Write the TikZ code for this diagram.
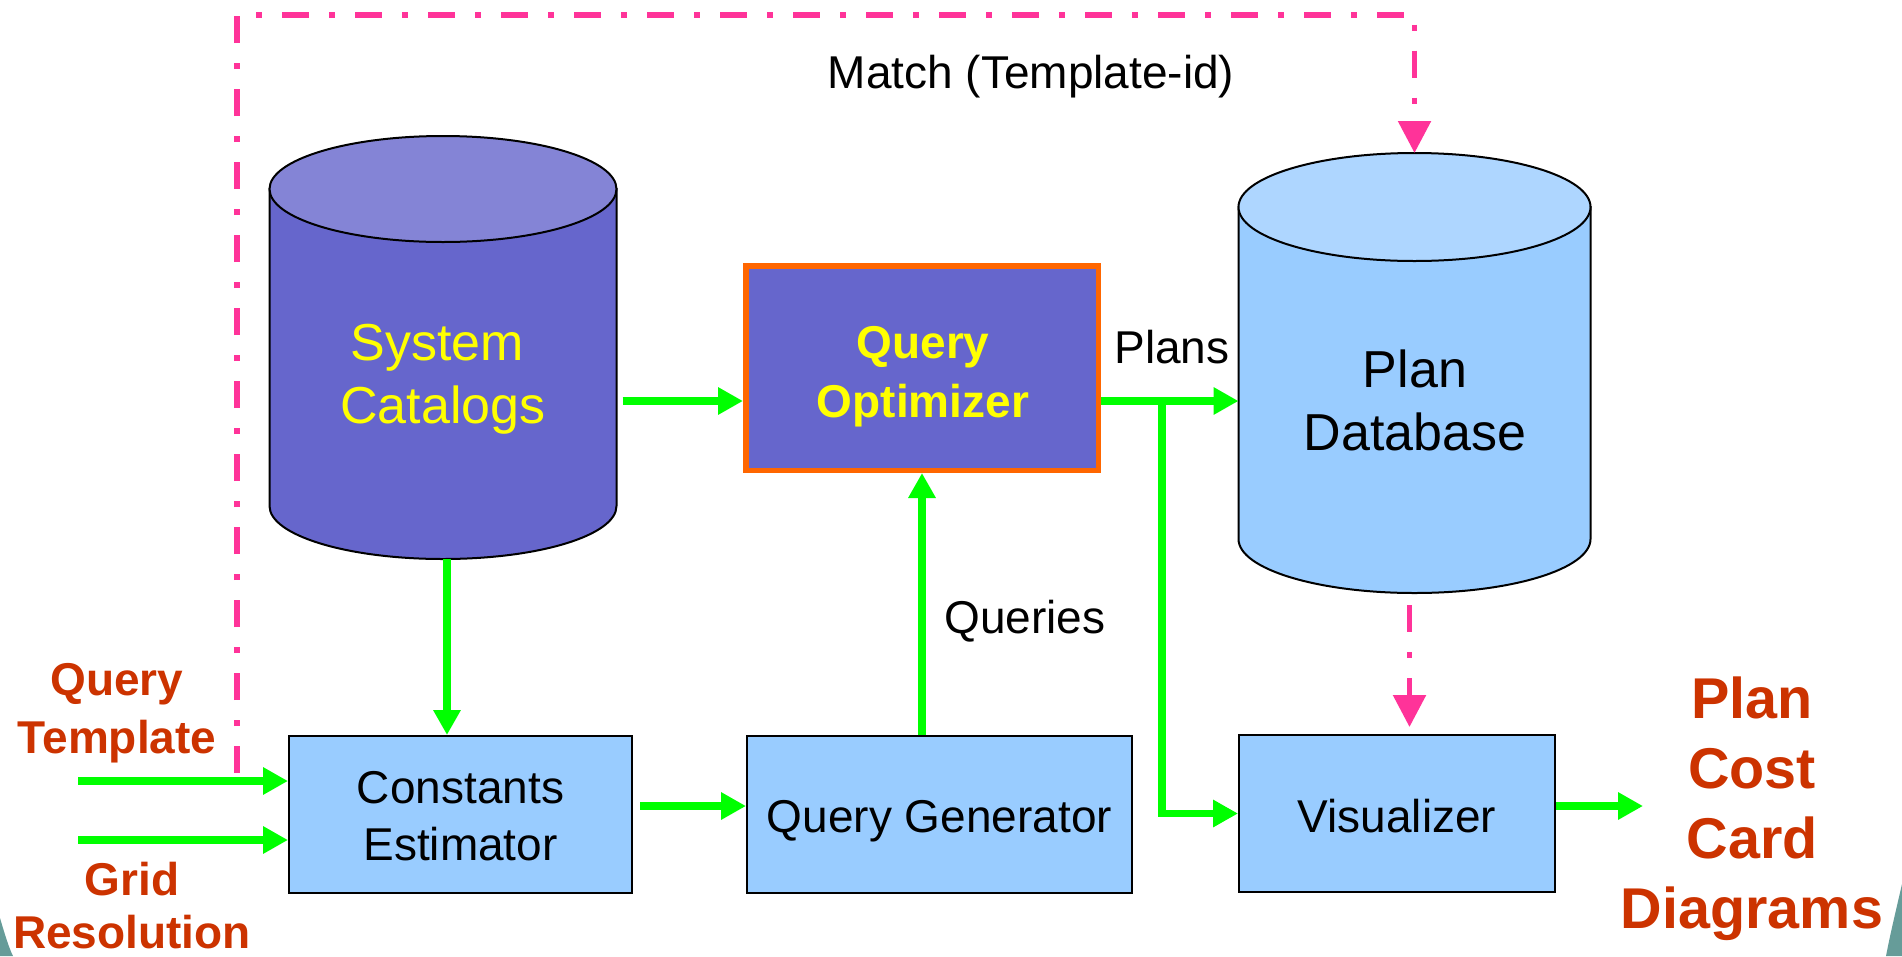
\documentclass[tikz,border=0pt]{standalone}
\usepackage{fontspec}
\setmainfont{Liberation Sans}
\usetikzlibrary{arrows.meta,calc}
\definecolor{flowgreen}{HTML}{00FF00}
\definecolor{matchpink}{HTML}{FF3399}
\definecolor{labred}{HTML}{CC3300}
\definecolor{boxblue}{HTML}{99CCFF}
\definecolor{dbtop}{HTML}{AED6FF}
\definecolor{catbody}{HTML}{6666CC}
\definecolor{cattop}{HTML}{8484D6}
\definecolor{optborder}{HTML}{FF6600}
\definecolor{txtyellow}{HTML}{FFFF00}
\definecolor{cornerteal}{HTML}{669C99}
\newcommand\drawcyl[5]{%
  \filldraw[fill=#4,draw=black,line width=2pt]
    ($(#1.north west)+(0,#3)$) -- ($(#1.south west)+(0,-#3)$)
    arc[start angle=180,end angle=360,x radius=#2pt,y radius=#3pt]
    -- ($(#1.north east)+(0,#3)$) -- cycle;
  \filldraw[fill=#5,draw=black,line width=2pt]
    ($(#1.north)+(0,#3)$) ellipse[x radius=#2pt,y radius=#3pt];
}
\begin{document}
\begin{tikzpicture}[x=1pt,y=-1pt,
  shapebox/.style={rectangle,inner sep=0pt,outer sep=0pt,draw=none},
  procbox/.style={rectangle,inner sep=0pt,fill=boxblue,draw=black,line width=2pt},
  txt/.style={inner sep=0pt,anchor=base,font=\fontsize{46}{55}\selectfont},
  bigtxt/.style={inner sep=0pt,anchor=base,font=\fontsize{52}{62}\selectfont},
  redtxt/.style={inner sep=0pt,anchor=base,text=labred,font=\fontsize{46}{55}\selectfont\bfseries},
  outtxt/.style={inner sep=0pt,anchor=base,text=labred,font=\fontsize{57.5}{69}\selectfont\bfseries},
  garrow/.style={draw=flowgreen,line width=7.5pt,-{Triangle[length=25pt,width=26pt]}},
  parrow/.style={draw=matchpink,line width=5.5pt,dash pattern=on 27pt off 20pt on 6pt off 20pt,
                 -{Triangle[length=32pt,width=32pt]}}
]
\useasboundingbox (0,0) rectangle (1902,956);
\fill[white] (0,0) rectangle (1902,956);

% slide background corners
\fill[cornerteal] (0,918) .. controls (5,935) and (9,948) .. (13,956) -- (0,956) -- cycle;
\fill[cornerteal] (1902,884) .. controls (1896,910) and (1890,935) .. (1886,956) -- (1902,956) -- cycle;

% cylinders (named bounding nodes)
\node[shapebox,minimum width=347pt,minimum height=423pt] (sc) at (443,347.5) {};
\node[shapebox,minimum width=352pt,minimum height=440pt] (pdb) at (1414.5,373) {};
\drawcyl{sc}{173.5}{53}{catbody}{cattop}
\drawcyl{pdb}{176}{54}{boxblue}{dbtop}

% boxes
\node[rectangle,inner sep=0pt,fill=catbody,draw=optborder,line width=5.5pt,
      minimum width=352.5pt,minimum height=204.5pt] (qo) at (922,368) {};
\node[procbox,minimum width=343pt,minimum height=157pt] (ce) at (460.5,814.5) {};
\node[procbox,minimum width=385pt,minimum height=157pt] (qg) at (939.5,814.5) {};
\node[procbox,minimum width=316pt,minimum height=157pt] (vis) at (1397,813.5) {};

% texts
\node[bigtxt,text=txtyellow] (sc1) at (437,360) {System};
\node[bigtxt,text=txtyellow] (sc2) at (443,423) {Catalogs};
\node[bigtxt] (pdb1) at (1415,387) {Plan};
\node[bigtxt] (pdb2) at (1415,450) {Database};
\node[txt,text=txtyellow,font=\fontsize{46}{55}\selectfont\bfseries] (qo1) at (923,358) {Query};
\node[txt,text=txtyellow,font=\fontsize{46}{55}\selectfont\bfseries] (qo2) at (923,417) {Optimizer};
\node[txt] (ce1) at (460.5,803) {Constants};
\node[txt] (ce2) at (460.5,860) {Estimator};
\node[txt] (qg1) at (939.5,832) {Query Generator};
\node[txt] (vis1) at (1397,832) {Visualizer};
\node[txt] (match) at (1031,88) {Match (Template-id)};
\node[txt] (plans) at (1172,363) {Plans};
\node[txt] (queries) at (1025,633) {Queries};
\node[redtxt] (qt1) at (117,695) {Query};
\node[redtxt] (qt2) at (117,753) {Template};
\node[redtxt] (gr1) at (132,895) {Grid};
\node[redtxt] (gr2) at (132,948) {Resolution};
\node[outtxt] (pcc1) at (1752,718) {Plan};
\node[outtxt] (pcc2) at (1752,788) {Cost};
\node[outtxt] (pcc3) at (1752,858) {Card};
\node[outtxt] (pcc4) at (1752,928) {Diagrams};

% helper coordinates
\coordinate (ay) at (0,401);
\coordinate (by) at (0,806);
\coordinate (br) at (1162,397);
\coordinate (qtin) at (78,781);
\coordinate (grin) at (78,840);
\coordinate (outtip) at (1643,806);
\coordinate (mstart) at (237,773);

% pink match connectors
\draw[parrow] (mstart) |- ($(pdb.north)+(0,-138)$) -- (pdb.north);
\draw[parrow,shorten <=12pt,shorten >=7pt] ([xshift=-5pt]pdb.south) -- ([xshift=-5pt]pdb.south |- vis.north);

% green flow connectors
\draw[garrow] ([xshift=4pt]sc.south) -- ([xshift=4pt]sc.south |- ce.north);
\draw[garrow,shorten <=6pt] (sc.east |- ay) -- (qo.west |- ay);
\draw[garrow] (qo.east |- ay) -- (pdb.west |- ay);
\draw[garrow] (br) |- (vis.west);
\draw[garrow] (qo.south |- qg.north) -- (qo.south);
\draw[garrow,shorten <=7pt] (ce.east |- by) -- (qg.west |- by);
\draw[garrow] (vis.east |- by) -- (outtip);
\draw[garrow] (qtin) -- (ce.west |- qtin);
\draw[garrow] (grin) -- (ce.west |- grin);
\end{tikzpicture}
\end{document}
